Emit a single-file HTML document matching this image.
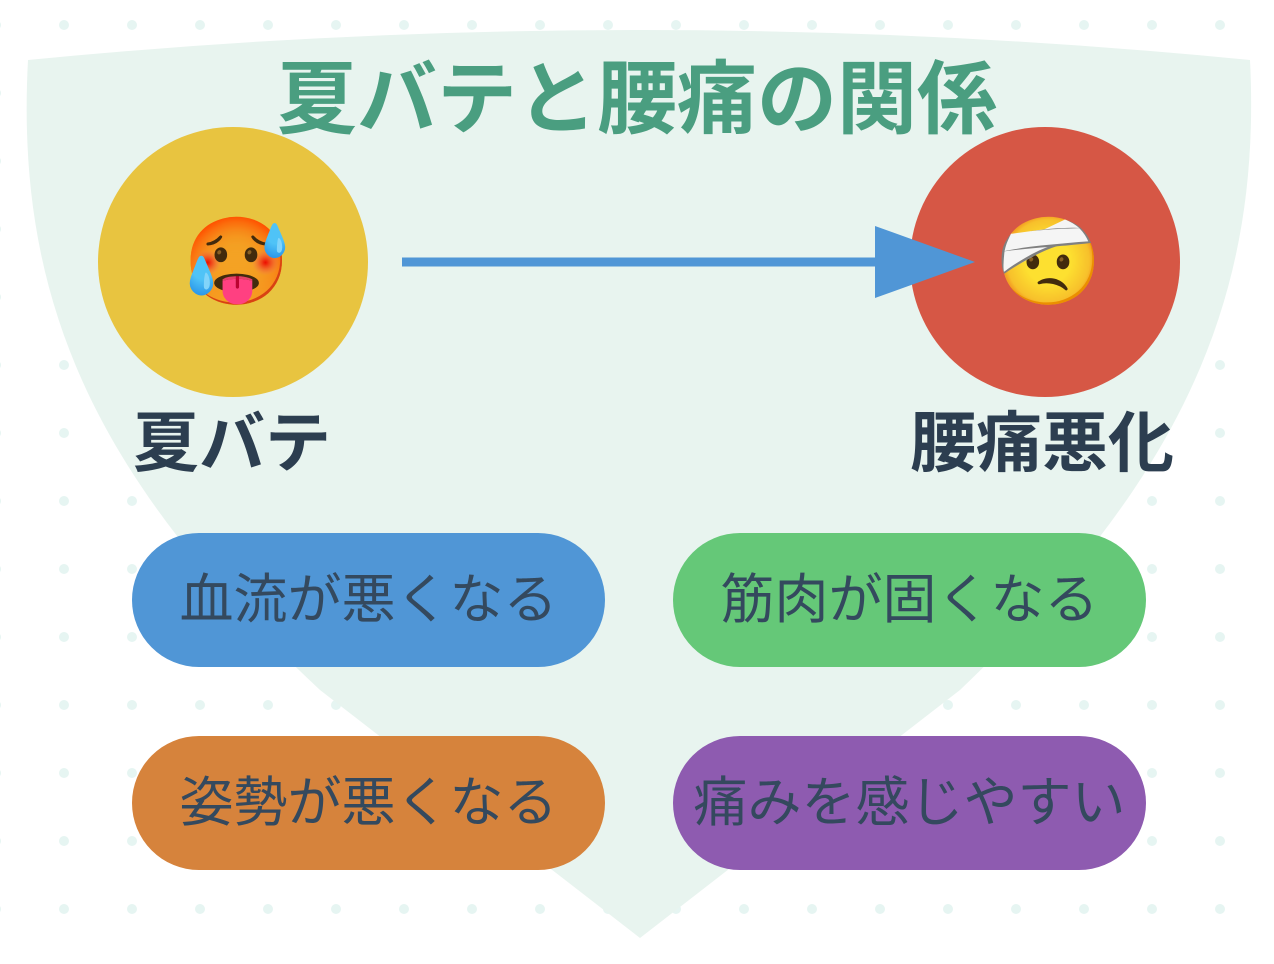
<!DOCTYPE html>
<html><head><meta charset="utf-8"><style>
body{margin:0;width:1274px;height:964px;overflow:hidden;background:#fff;font-family:"Liberation Sans","Noto Sans CJK JP",sans-serif;}
.abs{position:absolute}
.pill{position:absolute;width:473px;height:134px;border-radius:67px;display:flex;align-items:center;justify-content:center;font-size:54px;color:#34495e;white-space:nowrap}
.pill span{position:relative;top:-6px}
.lbl{position:absolute;font-weight:bold;color:#2c3e50;font-size:66px;white-space:nowrap}
</style></head><body>
<svg class="abs" style="left:0;top:0" width="1274" height="964">
<defs><pattern id="d" x="-4" y="-9" width="68" height="68" patternUnits="userSpaceOnUse"><circle cx="0" cy="34" r="5" fill="#e6f5f2"/><circle cx="68" cy="34" r="5" fill="#e6f5f2"/></pattern></defs>
<rect width="1274" height="964" fill="url(#d)"/>
<path d="M28,60 Q640,0 1250,60 C1262,300 1180,480 960,690 L640,938 L320,690 C95,480 15,300 28,60 Z" fill="#e8f4ef"/>
<circle cx="233" cy="262" r="135" fill="#e8c440"/>
<circle cx="1045" cy="262" r="135" fill="#d65745"/>
<line x1="402" y1="262" x2="885" y2="262" stroke="#5096d6" stroke-width="9"/>
<polygon points="875,226 975,262 875,298" fill="#5096d6"/>
</svg>
<div class="abs" style="left:0;width:1274px;top:35px;text-align:center;font-size:80px;font-weight:bold;color:#4a9e80;white-space:nowrap">夏バテと腰痛の関係</div>
<div class="abs" style="left:183px;top:208px;width:100px;text-align:center;font-size:86px;line-height:108px">🥵</div>
<div class="abs" style="left:995px;top:208px;width:100px;text-align:center;font-size:86px;line-height:108px">🤕</div>
<div class="lbl" style="left:133px;top:390px">夏バテ</div>
<div class="lbl" style="left:910px;top:390px">腰痛悪化</div>
<div class="pill" style="left:132px;top:533px;background:#5096d6"><span>血流が悪くなる</span></div>
<div class="pill" style="left:673px;top:533px;background:#65c878"><span>筋肉が固くなる</span></div>
<div class="pill" style="left:132px;top:736px;background:#d6833c"><span>姿勢が悪くなる</span></div>
<div class="pill" style="left:673px;top:736px;background:#8e5bb0"><span>痛みを感じやすい</span></div>
</body></html>
